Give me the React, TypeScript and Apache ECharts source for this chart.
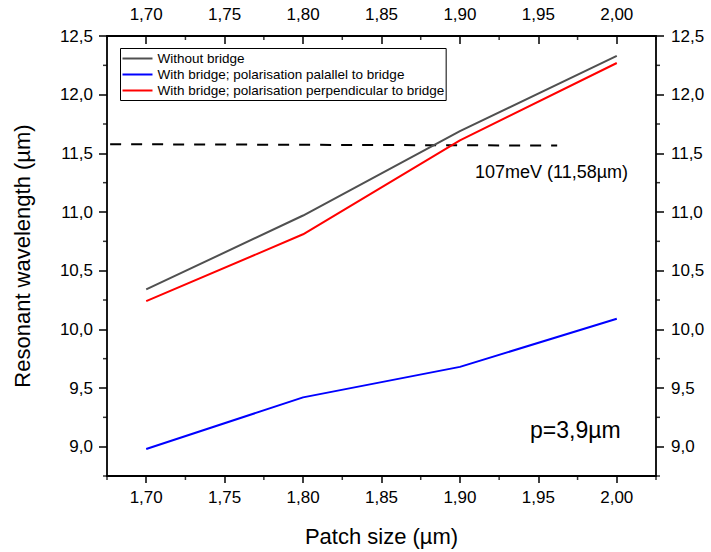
import React, { useEffect, useRef } from 'react';
import * as echarts from 'echarts';

const patchSizes = [1.7, 1.8, 1.9, 2.0];
const withoutBridge = [10.34, 10.97, 11.69, 12.33];
const parallelBridge = [8.98, 9.42, 9.68, 10.09];
const perpendicularBridge = [10.24, 10.81, 11.61, 12.27];
const refLineX = [1.677, 1.962];
const refLineY = [11.578, 11.566];
const xMajorTicks = [1.7, 1.75, 1.8, 1.85, 1.9, 1.95, 2.0];
const xMinorTicks = [1.675, 1.725, 1.775, 1.825, 1.875, 1.925, 1.975, 2.025];
const yMajorTicks = [9.0, 9.5, 10.0, 10.5, 11.0, 11.5, 12.0, 12.5];
const yMinorTicks = [8.75, 9.25, 9.75, 10.25, 10.75, 11.25, 11.75, 12.25];
const seriesNames = [
  'Without bridge',
  'With bridge; polarisation palallel to bridge',
  'With bridge; polarisation perpendicular to bridge',
];
const refLabel = '107meV (11,58µm)';
const periodLabel = 'p=3,9µm';

const X_MIN = 1.675;
const X_MAX = 2.025;
const Y_MIN = 8.75;
const Y_MAX = 12.5;
const FONT = '"Liberation Sans", Arial, sans-serif';

const fmtX = (v: number) => v.toFixed(2).replace('.', ',');
const fmtY = (v: number) => v.toFixed(1).replace('.', ',');

export default function App() {
  const ref = useRef<HTMLDivElement>(null);
  useEffect(() => {
    if (!ref.current) return;
    const chart = echarts.init(ref.current, undefined, { renderer: 'svg' });
    const axisLine = { show: true, onZero: false, lineStyle: { color: '#000', width: 1.8 } };
    const xBase = (pos: 'top' | 'bottom') => ({
      type: 'value' as const,
      position: pos,
      min: X_MIN,
      max: X_MAX,
      axisLine,
      splitLine: { show: false },
      axisTick: {
        show: true,
        inside: pos === 'top',
        length: pos === 'top' ? 8 : 7,
        customValues: xMajorTicks,
        lineStyle: { color: '#000', width: 1.5 },
      },
      axisLabel: {
        show: true,
        customValues: xMajorTicks,
        formatter: fmtX,
        margin: 13,
        color: '#000',
        fontSize: 17,
        fontFamily: FONT,
      },
    });
    const yBase = (pos: 'left' | 'right') => ({
      type: 'value' as const,
      position: pos,
      min: Y_MIN,
      max: Y_MAX,
      axisLine,
      splitLine: { show: false },
      axisTick: {
        show: true,
        inside: false,
        length: 8,
        customValues: yMajorTicks,
        lineStyle: { color: '#000', width: 1.5 },
      },
      axisLabel: {
        show: true,
        customValues: yMajorTicks,
        formatter: fmtY,
        margin: pos === 'left' ? 14 : 15,
        color: '#000',
        fontSize: 17,
        fontFamily: FONT,
      },
    });
    const lineSeries = (name: string, data: number[], color: string) => ({
      name,
      type: 'line' as const,
      data: patchSizes.map((x, i) => [x, data[i]]),
      showSymbol: false,
      symbol: 'none',
      lineStyle: { color, width: 2 },
      itemStyle: { color },
      z: 3,
    });
    const tickSeries = (data: number[][], size: number[], offset: number[]) => ({
      type: 'scatter' as const,
      data,
      symbol: 'rect',
      symbolSize: size,
      symbolOffset: offset,
      itemStyle: { color: '#000' },
      silent: true,
      clip: false,
      z: 1,
    });
    chart.setOption({
      animation: false,
      backgroundColor: '#fff',
      textStyle: { fontFamily: FONT },
      grid: { left: 107, right: 55, top: 36, bottom: 74, containLabel: false },
      xAxis: [
        {
          ...xBase('bottom'),
          name: 'Patch size (µm)',
          nameLocation: 'middle',
          nameGap: 49,
          nameTextStyle: { fontSize: 22, color: '#000', fontFamily: FONT },
        },
        xBase('top'),
      ],
      yAxis: [
        {
          ...yBase('left'),
          name: 'Resonant wavelength (µm)',
          nameLocation: 'middle',
          nameGap: 74,
          nameTextStyle: { fontSize: 22, color: '#000', fontFamily: FONT },
        },
        yBase('right'),
      ],
      legend: {
        show: true,
        data: seriesNames,
        orient: 'vertical',
        left: 120.5,
        top: 48.5,
        padding: [2, 2, 2, 2],
        itemGap: 0,
        itemWidth: 30,
        itemHeight: 2,
        icon: 'rect',
        borderColor: '#000',
        borderWidth: 1,
        backgroundColor: '#fff',
        selectedMode: false,
        textStyle: { fontSize: 13.5, color: '#000', fontFamily: FONT, lineHeight: 16 },
      },
      graphic: [
        {
          type: 'text',
          left: 475,
          top: 163,
          style: { text: refLabel, fontSize: 18, fill: '#000', fontFamily: FONT },
        },
        {
          type: 'text',
          left: 530,
          top: 418,
          style: { text: periodLabel, fontSize: 23, fill: '#000', fontFamily: FONT },
        },
      ],
      series: [
        lineSeries(seriesNames[0], withoutBridge, '#505050'),
        lineSeries(seriesNames[1], parallelBridge, '#0000ff'),
        lineSeries(seriesNames[2], perpendicularBridge, '#ff0000'),
        {
          type: 'line',
          data: refLineX.map((x, i) => [x, refLineY[i]]),
          showSymbol: false,
          symbol: 'none',
          lineStyle: { color: '#000', width: 2, type: [11, 10] },
          silent: true,
          z: 2,
        },
        tickSeries(xMinorTicks.map((x) => [x, Y_MIN]), [1.5, 4], [0, 2]),
        tickSeries(xMinorTicks.map((x) => [x, Y_MAX]), [1.5, 4], [0, 2]),
        tickSeries(yMinorTicks.map((y) => [X_MIN, y]), [4, 1.5], [-2, 0]),
        tickSeries(yMinorTicks.map((y) => [X_MAX, y]), [4, 1.5], [2, 0]),
      ],
    });
    return () => chart.dispose();
  }, []);
  return (
    <div
      ref={ref}
      style={{ position: 'fixed', left: 0, top: 0, width: 711, height: 552, background: '#fff' }}
    />
  );
}
